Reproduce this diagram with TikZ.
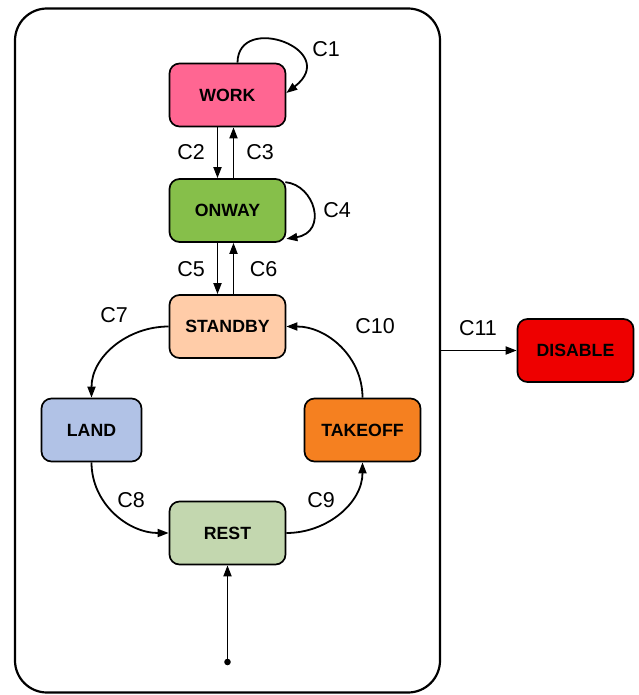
\documentclass[tikz,border=0pt]{standalone}
\usepackage{fontspec}
\setmainfont{Liberation Sans}
\usetikzlibrary{arrows.meta,calc}
\definecolor{cwork}{HTML}{FF6692}
\definecolor{conway}{HTML}{86BF4A}
\definecolor{cstandby}{HTML}{FFCCA8}
\definecolor{cland}{HTML}{B1C2E6}
\definecolor{ctakeoff}{HTML}{F58020}
\definecolor{crest}{HTML}{C3D7AF}
\definecolor{cdisable}{HTML}{EE0000}
\tikzset{
  state/.style={draw=black, line width=1.7pt, rounded corners=10pt, minimum width=116pt, minimum height=63pt, inner sep=0pt, font=\fontsize{17.7}{20}\selectfont\bfseries},
  lbl/.style={inner sep=0pt, font=\fontsize{21.5}{24}\selectfont},
  arr/.style={line width=1.8pt, -{Triangle[length=11pt,width=8pt]}},
}
\begin{document}
\begin{tikzpicture}[x=1pt,y=-1pt]
\useasboundingbox (0,0) rectangle (638,695);
\node[draw=black, line width=2.2pt, rounded corners=32pt, minimum width=425pt, minimum height=684pt, inner sep=0pt] (sys) at (227.5,350.5) {};
\node[state, fill=cwork] (work) at (227.5,95) {WORK};
\node[state, fill=conway] (onway) at (227.5,210.5) {ONWAY};
\node[state, fill=cstandby] (standby) at (227.5,326.5) {STANDBY};
\node[state, fill=cland, minimum width=100pt] (land) at (91.5,430) {LAND};
\node[state, fill=ctakeoff] (takeoff) at (362.5,430) {TAKEOFF};
\node[state, fill=crest] (rest) at (227.5,533) {REST};
\node[state, fill=cdisable] (disable) at (575.5,350.5) {DISABLE};
\coordinate (init) at (227.5,662);
\fill (init) circle (3.3pt);
% edges
\draw[arr] ($(work.north)+(10,0)$) .. controls (238,12) and (342,50) .. ($(work.east)+(0,-2)$);
\draw[arr] ([xshift=-10pt]work.south) -- ([xshift=-10pt]onway.north);
\draw[arr] ([xshift=6pt]onway.north) -- ([xshift=6pt]work.south);
\draw[arr] ($(onway.north east)+(-1,4)$) .. controls (315,185) and (328,232) .. ($(onway.south east)+(0,-4)$);
\draw[arr] ([xshift=-10pt]onway.south) -- ([xshift=-10pt]standby.north);
\draw[arr] ([xshift=6pt]standby.north) -- ([xshift=6pt]onway.south);
\draw[arr] (standby.west) to[out=180,in=90] (land.north);
\draw[arr] (land.south) to[out=-90,in=180] (rest.west);
\draw[arr] (rest.east) to[out=0,in=-90] (takeoff.south);
\draw[arr] (takeoff.north) to[out=90,in=0] (standby.east);
\draw[arr] (init) -- (rest.south);
\draw[arr] (sys.east) -- (disable.west);
% labels
\node[lbl] (l1) at (326,49) {C1};
\node[lbl] (l2) at (191,152) {C2};
\node[lbl] (l3) at (260,152) {C3};
\node[lbl] (l4) at (337,210) {C4};
\node[lbl] (l5) at (191,269) {C5};
\node[lbl] (l6) at (263.5,269) {C6};
\node[lbl] (l7) at (114,315) {C7};
\node[lbl] (l8) at (131,500) {C8};
\node[lbl] (l9) at (321,500) {C9};
\node[lbl] (l10) at (375,326) {C10};
\node[lbl] (l11) at (478,328) {C11};
\end{tikzpicture}
\end{document}
